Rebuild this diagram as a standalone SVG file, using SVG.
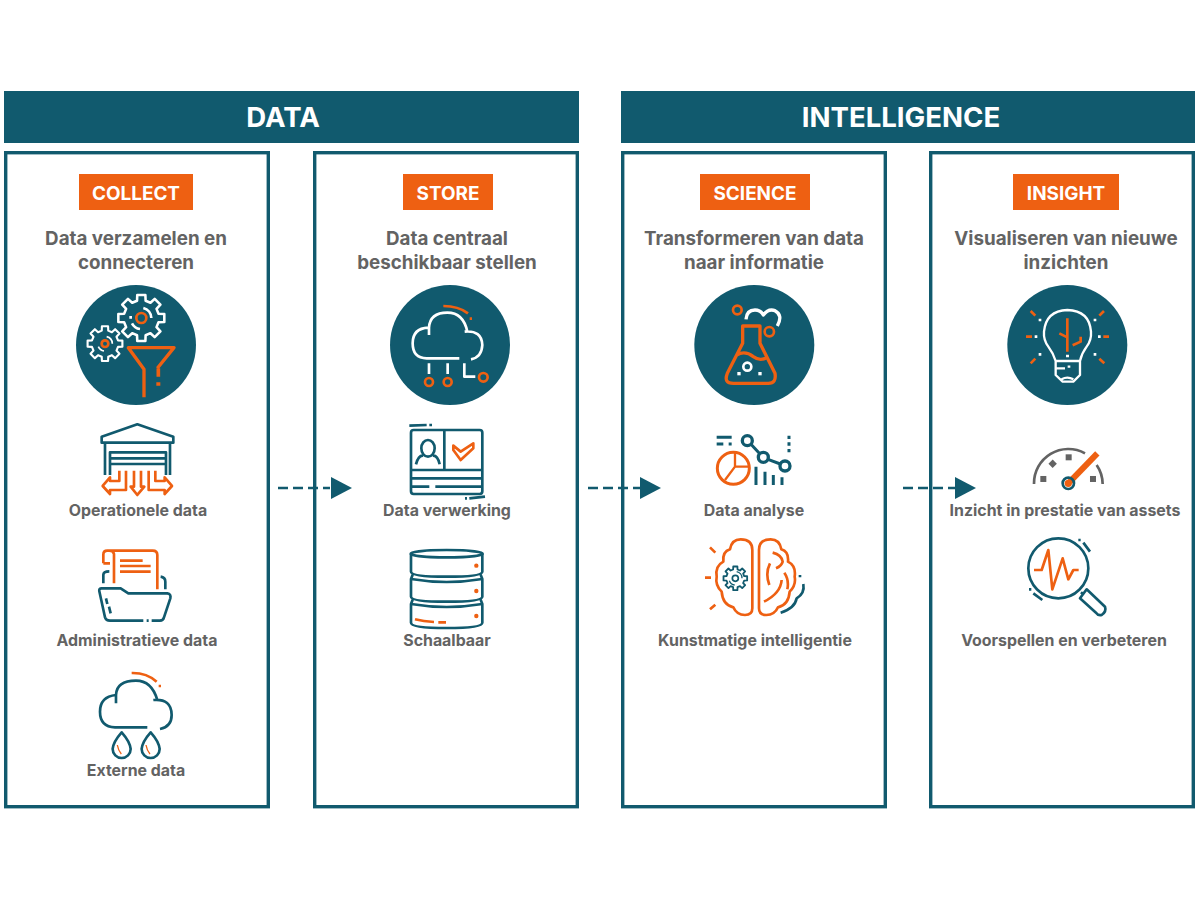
<svg xmlns="http://www.w3.org/2000/svg" xmlns:xlink="http://www.w3.org/1999/xlink" width="1200" height="900" viewBox="0 0 1200 900">
<style>
text{font-family:"Inter","Open Sans","Liberation Sans",sans-serif;text-anchor:middle}
.bar{fill:#115A6E}
.panel{fill:#fff;stroke:#115A6E;stroke-width:3.4}
.tag{fill:#EE6012}
.h{fill:#fff;font-size:27.6px;font-weight:700}
.t{fill:#fff;font-size:18.9px;font-weight:700}
.s{fill:#636363;font-size:18.8px;font-weight:700}
.l{fill:#636363;font-size:15.9px;font-weight:700}
.disc{fill:#115A6E}
.ic{fill:none;stroke-linejoin:round;stroke-width:8}
.te{stroke:#115A6E}.or{stroke:#EE6012}.wh{stroke:#fff}.gr{stroke:#636363}
.ft{fill:#115A6E;stroke:none}.fo{fill:#EE6012;stroke:none}.fw{fill:#fff;stroke:none}.fg{fill:#636363;stroke:none}
.conn{stroke:#115A6E;stroke-width:2.4;stroke-dasharray:10 5;fill:none}
</style>
<defs>
<path id="gear" d="M73.7-18.4L98.5-17.4V17.4L73.7 18.4L65.1 39.1L81.9 57.3L57.3 81.9L39.1 65.1L18.4 73.7L17.4 98.5H-17.4L-18.4 73.7L-39.1 65.1L-57.3 81.9L-81.9 57.3L-65.1 39.1L-73.7 18.4L-98.5 17.4V-17.4L-73.7-18.4L-65.1-39.1L-81.9-57.3L-57.3-81.9L-39.1-65.1L-18.4-73.7L-17.4-98.5H17.4L18.4-73.7L39.1-65.1L57.3-81.9L81.9-57.3L65.1-39.1Z"/>
</defs>
<g id="band-data"><rect class="bar" x="4" y="91" width="575" height="52"/><text class="h" x="283" y="126.500">DATA</text></g>
<g id="band-intelligence"><rect class="bar" x="621" y="91" width="574" height="52"/><text class="h" x="901" y="127">INTELLIGENCE</text></g>

<g id="collect">
<rect class="panel" x="5.7" y="152.7" width="262.6" height="654"/>
<rect class="tag" x="79" y="174" width="114" height="36"/><text class="t" x="136" y="199.500">COLLECT</text>
<text class="s" x="136" y="244.500">Data verzamelen en</text><text class="s" x="136" y="268.500">connecteren</text>
<circle class="disc" cx="136" cy="345" r="60"/>
<g class="ic" transform="translate(60,280) scale(.3333)">
<use href="#gear" class="wh" transform="translate(244,114) scale(.7)" stroke-width="11"/>
<circle class="or" cx="244" cy="114" r="15"/>
<path class="wh" d="M250 84A32 32 0 0 1 274 114M216 130A32 32 0 0 0 240 147M212 108v8"/>
<use href="#gear" class="wh" transform="translate(135,191) scale(.53)" stroke-width="12"/>
<circle class="or" cx="135" cy="191" r="10"/>
<path class="wh" stroke-width="5" d="M140 170A22 22 0 0 1 157 191M115 200A22 22 0 0 0 132 213"/>
<path class="or" stroke-width="10" d="M292 265L342 203H205L252 268V352"/>
<path class="or" stroke-width="11" d="M295 265V290M289 312H301"/>
<path class="te" d="M125 488V470L232 433L340 470V488ZM135 488V585M330 488V585M150 585V517H318V585M150 535H318M150 552H318"/>
<path class="or" d="M178 572V603H150V592L128 618L150 642V630H198V572M286 572V603H314V592L336 618L314 642V630H266V572M222 572V620H212L232 645L253 620H243V572"/>
</g>
<text class="l" x="138" y="516">Operationele data</text>
<g class="ic" transform="translate(60,530) scale(.3333)">
<path class="or" d="M130 100V74Q130 62 142 62H278Q292 62 292 75V178M130 100H150M162 160V72Q160 62 148 62M180 92H248M180 108H272M180 125H272"/>
<path class="te" d="M130 160V135Q130 124 148 124M302 140Q316 142 316 155V178M275 272H300Q310 272 312 262L331 205Q334 192 322 190H205L182 175H125Q116 175 118 184L135 262Q138 272 150 272H250M260 272H266M138 205L142 222M147 230L152 250"/>
</g>
<text class="l" x="137" y="646">Administratieve data</text>
<g class="ic" transform="translate(60,660) scale(.3333)">
<path class="te" d="M262 202H165Q120 200 120 155Q120 110 168 105M168 130V105Q170 62 228 62Q275 62 292 120M280 120Q335 115 335 165Q335 200 300 207M185 217Q210 245 212 267A27 27 0 0 1 158 267Q160 245 185 217ZM272 217Q297 245 299 267A27 27 0 0 1 245 267Q247 245 272 217Z"/>
<path class="or" d="M215 39Q260 38 290 65M296 78h7"/><path class="or" stroke-width="4" d="M172 255Q175 272 184 282M258 255Q261 272 270 282"/>
</g>
<text class="l" x="136" y="776">Externe data</text>
</g>

<g id="store">
<rect class="panel" x="314.7" y="152.7" width="262.6" height="654"/>
<rect class="tag" x="403" y="174" width="90" height="36"/><text class="t" x="448" y="199.500">STORE</text>
<text class="s" x="447" y="244.500">Data centraal</text><text class="s" x="447" y="268.500">beschikbaar stellen</text>
<circle class="disc" cx="450" cy="345" r="60"/>
<g class="ic" transform="translate(370,280) scale(.3333)">
<path class="wh" d="M268 235H170Q128 235 128 190Q128 145 175 143M177 165V143Q180 98 232 98Q280 98 292 155M284 155Q335 150 337 195Q335 232 303 238M177 250V282M233 250V282M283 250V290H316"/>
<path class="or" d="M220 78Q265 78 294 100M299 116h7"/>
<circle class="or" cx="177" cy="306" r="12"/><circle class="or" cx="233" cy="306" r="12"/><circle class="or" cx="340" cy="292" r="13"/>
<rect class="te" x="123" y="450" width="214" height="192" rx="8"/>
<path class="te" d="M223 450V568M123 570H337M123 595H337M123 620H178M196 620H337M118 437L170 435M182 431V439M285 655H291M298 655L345 650"/>
<ellipse class="te" cx="174" cy="505" rx="20" ry="25"/>
<path class="te" d="M138 553Q145 525 160 527M188 527Q203 525 209 553"/>
<path class="or" d="M250 497L272 515L310 490V505L272 540L250 510Z"/>
</g>
<text class="l" x="447" y="516">Data verwerking</text>
<g class="ic" transform="translate(370,530) scale(.3333)">
<ellipse class="te" cx="230" cy="71" rx="108" ry="11"/>
<path class="te" d="M123 72V125Q123 140 230 140Q337 140 337 125V72M128 134L123 147Q230 165 337 147L332 134M123 147V200Q123 215 230 215Q337 215 337 200V147M128 209L123 222Q230 240 337 222L332 209M123 222V278Q123 294 230 294Q337 294 337 278V222"/>
<circle class="fo" cx="319" cy="107" r="6.500"/><circle class="fo" cx="319" cy="183" r="6.500"/><circle class="fo" cx="319" cy="258" r="6.500"/>
<path class="or" d="M135 268Q160 275 192 276M205 277H228"/>
</g>
<text class="l" x="447" y="646">Schaalbaar</text>
</g>

<g id="science">
<rect class="panel" x="622.7" y="152.7" width="262.6" height="654"/>
<rect class="tag" x="700" y="174" width="110" height="36"/><text class="t" x="755" y="199.500">SCIENCE</text>
<text class="s" x="754" y="244.500">Transformeren van data</text><text class="s" x="754" y="268.500">naar informatie</text>
<circle class="disc" cx="754.3" cy="345" r="60"/>
<g class="ic" transform="translate(670,280) scale(.3333)">
<path class="or" stroke-width="10" d="M218 138H270V190L315 280Q320 310 295 310H190Q160 310 172 280L218 190ZM200 225Q225 210 250 230Q270 245 292 232"/>
<circle class="or" cx="202" cy="90" r="13"/><circle class="or" cx="298" cy="155" r="14"/>
<circle class="wh" cx="232" cy="260" r="12"/>
<rect class="fw" x="202" y="276" width="10" height="10"/><rect class="fw" x="265" y="276" width="10" height="10"/>
<path class="wh" stroke-width="10" d="M228 118Q230 90 255 90Q272 90 280 105Q295 85 315 92Q340 105 322 138"/>
<path class="te" stroke-width="9" d="M140 472H185M140 492H160M176 492H185M243 493L270 522M294 538L331 552M258 560V615M285 575V615M310 585V615M336 592V615M357 467V477M357 487V497M357 507V517"/>
<circle class="te" stroke-width="10" cx="232" cy="482" r="15"/><circle class="te" stroke-width="10" cx="280" cy="532" r="15"/><circle class="te" stroke-width="10" cx="345" cy="558" r="15"/>
<circle class="or" stroke-width="9" cx="190" cy="565" r="48"/>
<path class="or" stroke-width="7" d="M195 518V560H238M195 560L165 600"/>
</g>
<text class="l" x="754" y="516">Data analyse</text>
<g class="ic" transform="translate(690,530) scale(.3333)">
<path class="or" d="M187 60Q187 28 152 28Q125 28 120 58Q97 65 100 95Q75 108 80 140Q75 165 95 185Q98 225 130 232Q140 255 165 255Q187 255 187 235Z"/>
<path class="or" d="M207 60Q207 28 242 28Q269 28 274 58Q297 65 294 95Q319 108 314 140Q319 165 299 185Q296 225 264 232Q254 255 229 255Q207 255 207 235Z"/>
<path class="or" d="M248 68Q275 75 278 95Q275 108 258 115M240 100Q225 130 238 165M283 128Q298 150 292 178M275 150Q272 190 222 215M60 52L76 68M45 143H63M60 238L76 224"/>
<path class="te" d="M340 162Q345 190 320 205Q315 235 272 248M330 135V142"/>
<use href="#gear" class="te" transform="translate(136,145) scale(.36)" stroke-width="15"/>
<circle class="te" stroke-width="5" cx="136" cy="145" r="9"/>
<path class="te" stroke-width="4" d="M140 125A20 20 0 0 1 156 145M118 152A20 20 0 0 0 134 165"/>
</g>
<text class="l" x="755" y="646">Kunstmatige intelligentie</text>
</g>

<g id="insight">
<rect class="panel" x="930.7" y="152.7" width="262.6" height="654"/>
<rect class="tag" x="1013" y="174" width="106" height="36"/><text class="t" x="1066" y="199.500">INSIGHT</text>
<text class="s" x="1066" y="244.500">Visualiseren van nieuwe</text><text class="s" x="1066" y="268.500">inzichten</text>
<circle class="disc" cx="1067.3" cy="345" r="60"/>
<g class="ic" transform="translate(990,290) scale(.3333)">
<path class="wh" stroke-width="7" d="M197 213Q190 190 175 170Q160 150 162 125Q168 62 232 60Q298 62 303 125Q305 150 290 170Q275 190 270 213ZM197 213V255L218 275H250L270 255V213M197 235H225M233 230H241M215 268Q232 258 250 268M228 198H237"/>
<path class="or" d="M232 85V185M208 130L232 142M248 166L272 155V140M122 63L136 77M108 140H126M122 220L136 206M342 63L328 77M340 140H357M343 220L328 206"/>
<path class="wh" d="M146 90H154M134 140H142M146 193H154M311 90H319M324 140H332M311 193H319"/>
<path class="gr" d="M132 582A103 103 0 0 1 285 490M320 525A103 103 0 0 1 338 582"/>
<rect class="fg" x="151" y="558" width="18" height="18"/><rect class="fg" x="227" y="493" width="18" height="18"/><rect class="fg" x="300" y="558" width="18" height="18"/><rect class="fg" x="179" y="512" width="18" height="18" transform="rotate(45 188 521)"/>
<path class="or" stroke-width="18" d="M240 575L322 490"/>
<circle class="te" cx="235" cy="580" r="17"/><circle class="fo" cx="235" cy="580" r="11"/>
</g>
<text class="l" x="1065" y="516">Inzicht in prestatie van assets</text>
<g class="ic" transform="translate(1010,530) scale(.3333)">
<circle class="te" cx="145" cy="115" r="90"/>
<path class="te" d="M230 178L285 230Q290 245 275 255Q265 258 258 248L210 205ZM213 187L222 195M220 38L240 65M205 30H212M70 190L97 210M57 178H64"/>
<path class="or" d="M72 120H95L115 60L127 178L158 85L175 148L190 120H206"/>
</g>
<text class="l" x="1064" y="646">Voorspellen en verbeteren</text>
</g>

<g id="connectors">
<path class="conn" d="M278 488H330"/><path class="ft" d="M331 477L352 488L331 499Z"/>
<path class="conn" d="M588 488H640"/><path class="ft" d="M640 477L661 488L640 499Z"/>
<path class="conn" d="M903 488H955"/><path class="ft" d="M955 477L976 488L955 499Z"/>
</g>
</svg>
